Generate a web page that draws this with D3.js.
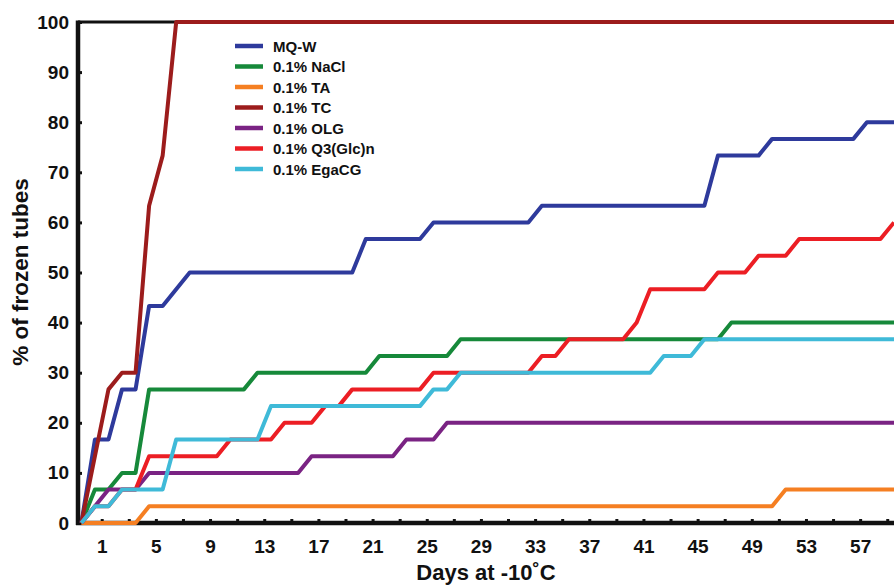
<!DOCTYPE html>
<html>
<head>
<meta charset="utf-8">
<script src="https://cdn.jsdelivr.net/npm/d3@7/dist/d3.min.js"></script>
<style>
  html, body { margin: 0; padding: 0; background: #fff; }
  svg { display: block; }
  text { font-family: "Liberation Sans", Arial, Helvetica, sans-serif; font-weight: bold; fill: #111; }
</style>
</head>
<body>
<svg id="chart" width="894" height="586"></svg>
<script>
// Cumulative share of frozen tubes (%) per day; each series lists [day, %] at the points where its slope changes.
const mqW   = [[-0.5,0],[0.5,16.67],[1.5,16.67],[2.5,26.67],[3.5,26.67],[4.5,43.33],[5.5,43.33],[6.5,46.67],[7.5,50],[19.5,50],[20.5,56.67],[24.5,56.67],[25.5,60],[32.5,60],[33.5,63.33],[45.5,63.33],[46.5,73.33],[49.5,73.33],[50.5,76.67],[56.5,76.67],[57.5,80],[59.5,80]];
const nacl  = [[-0.5,0],[0.5,6.67],[1.5,6.67],[2.5,10],[3.5,10],[4.5,26.67],[11.5,26.67],[12.5,30],[20.5,30],[21.5,33.33],[26.5,33.33],[27.5,36.67],[46.5,36.67],[47.5,40],[59.5,40]];
const ta    = [[-0.5,0],[3.5,0],[4.5,3.33],[50.5,3.33],[51.5,6.67],[59.5,6.67]];
const tc    = [[-0.5,0],[0.5,13.33],[1.5,26.67],[2.5,30],[3.5,30],[4.5,63.33],[5.5,73.33],[6.5,100],[59.5,100]];
const olg   = [[-0.5,0],[0.5,3.33],[1.5,6.67],[3.5,6.67],[4.5,10],[15.5,10],[16.5,13.33],[22.5,13.33],[23.5,16.67],[25.5,16.67],[26.5,20],[59.5,20]];
const q3glc = [[-0.5,0],[0.5,3.33],[1.5,3.33],[2.5,6.67],[3.5,6.67],[4.5,13.33],[9.5,13.33],[10.5,16.67],[13.5,16.67],[14.5,20],[16.5,20],[17.5,23.33],[18.5,23.33],[19.5,26.67],[24.5,26.67],[25.5,30],[32.5,30],[33.5,33.33],[34.5,33.33],[35.5,36.67],[39.5,36.67],[40.5,40],[41.5,46.67],[45.5,46.67],[46.5,50],[48.5,50],[49.5,53.33],[51.5,53.33],[52.5,56.67],[58.5,56.67],[59.5,60]];
const egacg = [[-0.5,0],[0.5,3.33],[1.5,3.33],[2.5,6.67],[5.5,6.67],[6.5,16.67],[12.5,16.67],[13.5,23.33],[24.5,23.33],[25.5,26.67],[26.5,26.67],[27.5,30],[41.5,30],[42.5,33.33],[44.5,33.33],[45.5,36.67],[59.5,36.67]];

const seriesNames  = ["MQ-W", "0.1% NaCl", "0.1% TA", "0.1% TC", "0.1% OLG", "0.1% Q3(Glc)n", "0.1% EgaCG"];
const seriesData   = [mqW, nacl, ta, tc, olg, q3glc, egacg];
const seriesColors = ["#2e3a9c", "#16893a", "#f57f22", "#9c1c1c", "#7a2383", "#ec1e24", "#3fbad8"];

const xTickDays  = d3.range(1, 60, 2);                 // minor marks on odd days
const xLabelDays = [1,5,9,13,17,21,25,29,33,37,41,45,49,53,57];
const yTicks     = [0,10,20,30,40,50,60,70,80,90,100];

const svg = d3.select("#chart");
const plotLeft = 78, plotRight = 894, plotTop = 22, plotBottom = 523;

const x = d3.scaleLinear().domain([-0.75, 59.5]).range([plotLeft, plotRight]);
const y = d3.scaleLinear().domain([0, 100]).range([plotBottom, plotTop]);

// top frame line
svg.append("line")
  .attr("x1", plotLeft).attr("x2", plotRight).attr("y1", plotTop).attr("y2", plotTop)
  .attr("stroke", "#111").attr("stroke-width", 3);

// y axis
const yAxis = svg.append("g").attr("transform", `translate(${plotLeft},0)`)
  .call(d3.axisLeft(y).tickValues(yTicks).tickSize(-4).tickPadding(9));
yAxis.select(".domain").remove();
yAxis.selectAll(".tick line").attr("stroke", "#111").attr("stroke-width", 3);
yAxis.selectAll(".tick text").style("font-size", "19px").style("font-family", "Liberation Sans, Arial, sans-serif").style("font-weight", "bold").attr("fill", "#111");
svg.append("line")
  .attr("x1", plotLeft).attr("x2", plotLeft).attr("y1", plotTop - 1.5).attr("y2", plotBottom + 2)
  .attr("stroke", "#111").attr("stroke-width", 4.5);

// x axis
const xAxis = svg.append("g").attr("transform", `translate(0,${plotBottom})`)
  .call(d3.axisBottom(x).tickValues(xTickDays).tickSize(-4).tickPadding(17)
    .tickFormat(d => xLabelDays.includes(d) ? d : ""));
xAxis.select(".domain").remove();
xAxis.selectAll(".tick line").attr("stroke", "#111").attr("stroke-width", 3);
xAxis.selectAll(".tick text").style("font-size", "19px").style("font-family", "Liberation Sans, Arial, sans-serif").style("font-weight", "bold").attr("fill", "#111");
svg.append("line")
  .attr("x1", plotLeft - 2).attr("x2", plotRight).attr("y1", plotBottom).attr("y2", plotBottom)
  .attr("stroke", "#111").attr("stroke-width", 4.5);

// axis titles
svg.append("text")
  .attr("x", 486).attr("y", 580)
  .attr("text-anchor", "middle")
  .style("font-size", "22px")
  .text("Days at -10˚C");
svg.append("text")
  .attr("transform", "translate(28,272) rotate(-90)")
  .attr("text-anchor", "middle")
  .style("font-size", "22.5px")
  .text("% of frozen tubes");

// series lines
const line = d3.line().x(d => x(d[0])).y(d => y(d[1]));
seriesData.forEach((data, i) => {
  svg.append("path")
    .datum(data)
    .attr("d", line)
    .attr("fill", "none")
    .attr("stroke", seriesColors[i])
    .attr("stroke-width", 4)
    .attr("stroke-linejoin", "round");
});

// legend
const legend = svg.append("g").attr("transform", "translate(235,46)");
seriesNames.forEach((name, i) => {
  const g = legend.append("g").attr("transform", `translate(0,${i * 20.5})`);
  g.append("line").attr("x1", 0).attr("x2", 28).attr("y1", 0).attr("y2", 0)
    .attr("stroke", seriesColors[i]).attr("stroke-width", 4.5);
  g.append("text").attr("x", 38).attr("y", 5.5)
    .style("font-size", "15px")
    .text(name);
});
</script>
</body>
</html>
